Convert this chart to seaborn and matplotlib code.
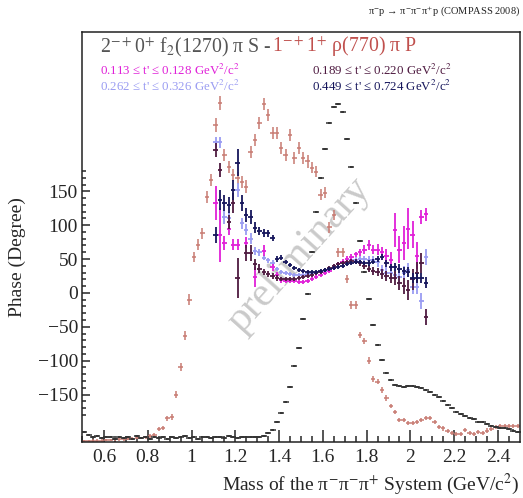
import numpy as np
import pandas as pd
import matplotlib
matplotlib.use("Agg")
import matplotlib.pyplot as plt
import seaborn as sns
from matplotlib.ticker import FixedLocator

# ---- intensities (drawn in phase-axis units) ----
int_mass = [0.51, 0.53, 0.55, 0.57, 0.59, 0.61, 0.63, 0.65, 0.67, 0.69, 0.71, 0.73, 0.75, 0.77, 0.79,
            0.81, 0.83, 0.85, 0.87, 0.89, 0.91, 0.93, 0.95, 0.97, 0.99, 1.01, 1.03, 1.05, 1.07, 1.09,
            1.11, 1.13, 1.15, 1.17, 1.19, 1.21, 1.23, 1.25, 1.27, 1.29, 1.31, 1.33, 1.35, 1.37, 1.39,
            1.41, 1.43, 1.45, 1.47, 1.49, 1.51, 1.53, 1.55, 1.57, 1.59, 1.61, 1.63, 1.65, 1.67, 1.69,
            1.71, 1.73, 1.75, 1.77, 1.79, 1.81, 1.83, 1.85, 1.87, 1.89, 1.91, 1.93, 1.95, 1.97, 1.99,
            2.01, 2.03, 2.05, 2.07, 2.09, 2.11, 2.13, 2.15, 2.17, 2.19, 2.21, 2.23, 2.25, 2.27, 2.29,
            2.31, 2.33, 2.35, 2.37, 2.39, 2.41, 2.43, 2.45, 2.47, 2.49]

rho_int = [-219, -219, -218, -218, -218, -217, -217, -216, -216, -216, -215, -215, -214, -214, -213,
           -211, -209, -201, -199, -185, -183, -150, -109, -63, -10, 53, 71, 88, 142, 167,
           248, 280, 204, 186, 174, 170, 164, 157, 208, 226, 251, 279, 263, 236, 236,
           214, 204, 233, 199, 214, 199, 194, 185, 179, 145, 148, 97, 115, 60, 60,
           20, -18, -18, -62, -71, -100, -127, -131, -143, -155, -167, -176, -188, -188, -192,
           -192, -190, -188, -185, -185, -190, -198, -200, -204, -207, -208, -208, -202, -207, -208,
           -205, -206, -203, -201, -198, -197, -196, -196, -196, -196]
rho_err = [2, 2, 2, 2, 2, 2, 2, 2, 2, 2, 2, 2, 2, 2, 2,
           3, 3, 3, 3, 4, 4, 5, 6, 7, 8, 8, 8, 8, 9, 9,
           10, 10, 9, 9, 9, 9, 9, 9, 9, 9, 9, 9, 9, 9, 9,
           9, 9, 9, 9, 9, 9, 9, 8, 8, 8, 8, 8, 8, 7, 7,
           6, 6, 6, 5, 5, 5, 4, 4, 4, 4, 3, 3, 3, 3, 3,
           3, 3, 3, 3, 3, 3, 3, 3, 3, 3, 3, 3, 3, 3, 3,
           3, 3, 3, 3, 3, 3, 3, 3, 3, 3]

f2_int = [-205, -210, -213, -211, -214, -212, -213, -215, -212, -214, -213, -215, -211, -214, -213,
          -215, -212, -214, -213, -215, -212, -214, -213, -211, -214, -212, -215, -213, -212, -214,
          -213, -212, -214, -211, -213, -214, -212, -213, -212, -213, -212, -211, -207, -202, -190,
          -177, -161, -139, -108, -81, -38, -1, 60, 120, 170, 213, 251, 275, 279, 267,
          227, 186, 133, 77, 31, -9, -48, -77, -99, -118, -128, -136, -138, -139, -138,
          -137, -139, -140, -143, -146, -150, -154, -160, -166, -170, -175, -178, -182, -185, -186,
          -190, -191, -193, -197, -198, -199, -200, -201, -203, -205]

# ---- relative phases for four t' bins ----
m_a = [1.11, 1.13, 1.15, 1.17, 1.19, 1.21, 1.25, 1.29, 1.33, 1.37, 1.39, 1.41, 1.43, 1.45, 1.47,
       1.49, 1.51, 1.53, 1.55, 1.57, 1.59, 1.61, 1.63, 1.65, 1.67, 1.69, 1.71, 1.73, 1.75, 1.77,
       1.79, 1.81, 1.83, 1.85, 1.87, 1.89, 1.91, 1.93, 1.95, 1.97, 1.99, 2.01, 2.03, 2.05, 2.07]
ph_a = [133, 86, 74, 95, 71, 71, 74, 24, 62, 38, 27, 19, 18, 18, 17,
        16, 16, 18, 20, 23, 26, 29, 32, 37, 42, 46, 50, 53, 57, 60,
        64, 71, 64, 64, 60, 55, 48, 93, 64, 74, 95, 86, 55, 112, 116]
er_a = [25, 40, 10, 10, 8, 8, 8, 15, 8, 5, 4, 4, 3, 3, 3,
        3, 3, 3, 3, 3, 3, 3, 3, 3, 4, 4, 4, 4, 4, 5,
        6, 7, 7, 8, 8, 10, 12, 25, 20, 25, 30, 20, 20, 10, 10]

m_b = [1.11, 1.13, 1.17, 1.19, 1.21, 1.25, 1.27, 1.29, 1.31, 1.33, 1.35, 1.37, 1.39, 1.41, 1.43,
       1.45, 1.47, 1.49, 1.51, 1.53, 1.55, 1.57, 1.59, 1.61, 1.63, 1.65, 1.67, 1.69, 1.71, 1.73,
       1.75, 1.77, 1.79, 1.81, 1.83, 1.85, 1.87, 1.89, 1.91, 1.93, 1.95, 1.97, 1.99, 2.01, 2.03,
       2.05, 2.07]
ph_b = [211, 181, 105, 133, 22, 59, 59, 42, 36, 31, 28, 25, 22, 20, 20,
        20, 21, 22, 23, 25, 27, 29, 31, 34, 37, 40, 42, 44, 46, 47,
        46, 44, 40, 36, 33, 31, 28, 25, 22, 22, 15, 10, 4, 20, 30,
        44, -36]
er_b = [10, 10, 10, 15, 30, 12, 12, 8, 6, 5, 4, 4, 4, 3, 3,
        3, 3, 3, 3, 3, 3, 3, 3, 3, 3, 3, 3, 3, 3, 3,
        4, 4, 5, 5, 6, 6, 7, 8, 8, 10, 10, 12, 15, 15, 15,
        15, 12]

m_c = [1.11, 1.13, 1.15, 1.17, 1.21, 1.23, 1.25, 1.27, 1.29, 1.31, 1.33, 1.35, 1.37, 1.39, 1.41,
       1.43, 1.45, 1.47, 1.49, 1.51, 1.53, 1.55, 1.57, 1.59, 1.61, 1.63, 1.65, 1.67, 1.69, 1.71,
       1.73, 1.75, 1.77, 1.79, 1.81, 1.83, 1.85, 1.87, 1.89, 1.91, 1.93, 1.95, 1.97, 1.99, 2.01,
       2.03, 2.05, 2.07]
ph_c = [222, 222, 112, 110, 152, 103, 93, 80, 62, 60, 52, 48, 44, 36, 31,
        29, 28, 27, 27, 27, 28, 29, 30, 31, 33, 36, 40, 42, 44, 46,
        48, 49, 50, 50, 49, 49, 45, 34, 30, 29, 27, 24, 30, 34, 9,
        9, -12, 53]
er_c = [8, 8, 10, 10, 10, 8, 8, 8, 6, 5, 4, 4, 4, 3, 3,
        3, 3, 3, 3, 3, 3, 3, 3, 3, 3, 3, 3, 3, 3, 4,
        4, 4, 4, 4, 5, 5, 6, 7, 8, 8, 8, 10, 10, 10, 10,
        10, 12, 12]

m_d = [1.11, 1.13, 1.15, 1.17, 1.19, 1.21, 1.23, 1.25, 1.27, 1.29, 1.31, 1.33, 1.35, 1.37, 1.39,
       1.41, 1.43, 1.45, 1.47, 1.49, 1.51, 1.53, 1.55, 1.57, 1.59, 1.61, 1.63, 1.65, 1.67, 1.69,
       1.71, 1.73, 1.75, 1.77, 1.79, 1.81, 1.83, 1.85, 1.87, 1.89, 1.91, 1.93, 1.95, 1.97, 1.99,
       2.01, 2.03, 2.05, 2.07]
ph_d = [86, 137, 133, 130, 152, 192, 133, 115, 112, 96, 92, 88, 88, 81, 50,
        52, 46, 41, 37, 34, 32, 31, 31, 31, 32, 34, 35, 37, 38, 40,
        43, 44, 46, 45, 44, 44, 46, 50, 53, 44, 38, 38, 36, 33, 31,
        22, 22, 22, 15]
er_d = [12, 15, 12, 12, 15, 20, 12, 10, 10, 8, 6, 6, 5, 5, 4,
        4, 3, 3, 3, 3, 3, 3, 3, 3, 3, 3, 3, 3, 3, 3,
        3, 3, 3, 3, 3, 4, 4, 5, 5, 5, 5, 6, 6, 6, 7,
        7, 8, 8, 8]

tbins = ["0.113 \u2264 t' \u2264 0.128 GeV$^2$/c$^2$",
         "0.189 \u2264 t' \u2264 0.220 GeV$^2$/c$^2$",
         "0.262 \u2264 t' \u2264 0.326 GeV$^2$/c$^2$",
         "0.449 \u2264 t' \u2264 0.724 GeV$^2$/c$^2$"]
tcolors = ["#e020d8", "#4e1a40", "#9a9cf2", "#16165c"]

sns.set_style("ticks")
plt.rcParams['font.family'] = ['Liberation Serif', 'STIXGeneral', 'DejaVu Serif']
plt.rcParams['mathtext.fontset'] = 'stix'

fig = plt.figure(figsize=(5.23, 4.98), dpi=100)
ax = fig.add_axes([0.157, 0.1124, 0.837, 0.8233])

# watermark
ax.text(1.49, 56, "preliminary", fontsize=30, color="#cacaca", rotation=48,
        ha="center", va="center", zorder=0.5)

# intensities
ax.errorbar(int_mass, rho_int, yerr=rho_err, xerr=0.01, fmt="none",
            ecolor="#c87a72", elinewidth=1.1, zorder=2)
f2_df = pd.DataFrame({"mass": int_mass, "val": f2_int})
ax.errorbar(f2_df["mass"], f2_df["val"], yerr=1.5, xerr=0.008, fmt="none",
            ecolor="#333333", elinewidth=1.1, zorder=2)
sns.scatterplot(data=f2_df, x="mass", y="val", marker="_", s=18, color="#333333",
                linewidth=1.1, ax=ax, zorder=2, legend=False)

# phases
for mm, ph, er, col in [(m_c, ph_c, er_c, tcolors[2]), (m_a, ph_a, er_a, tcolors[0]),
                        (m_b, ph_b, er_b, tcolors[1]), (m_d, ph_d, er_d, tcolors[3])]:
    ax.errorbar(mm, ph, yerr=er, xerr=0.01, fmt="none", ecolor=col,
                elinewidth=1.3, zorder=3)

ax.set_xlim(0.5, 2.5)
ax.set_ylim(-220, 385)
ax.xaxis.set_major_locator(FixedLocator(np.arange(0.6, 2.41, 0.2)))
ax.xaxis.set_minor_locator(FixedLocator(np.arange(0.5, 2.5, 0.05)))
ax.set_xticklabels(["0.6", "0.8", "1", "1.2", "1.4", "1.6", "1.8", "2", "2.2", "2.4"])
ax.yaxis.set_major_locator(FixedLocator(np.arange(-150, 151, 50)))
ax.yaxis.set_minor_locator(FixedLocator(np.arange(-180, 181, 10)))
ax.tick_params(axis="both", which="both", direction="in", labelsize=14, width=1.1)
ax.tick_params(axis="x", which="major", length=9, pad=5)
ax.tick_params(axis="x", which="minor", length=4)
ax.tick_params(axis="y", which="major", length=6, pad=3)
ax.tick_params(axis="y", which="minor", length=3)
for s in ax.spines.values():
    s.set_linewidth(1.1)
    s.set_color("#222222")

ax.set_xlabel("Mass of the π$^{-}$π$^{-}$π$^{+}$ System (GeV/c$^2$)", fontsize=14,
              loc="right")
ax.set_ylabel("Phase (Degree)", fontsize=14)
ax.yaxis.set_label_coords(-0.128, 0.45)

# title made of two coloured parts
t1 = ax.text(0.041, 0.951, "2$^{-+}$0$^{+}$ f$_2$(1270) π S - ", transform=ax.transAxes,
             fontsize=14.3, color="#555555", ha="left", va="baseline")
fig.canvas.draw()
bb = t1.get_window_extent()
x2 = ax.transAxes.inverted().transform((bb.x1, bb.y0))[0]
ax.text(x2, 0.951, "1$^{-+}$1$^{+}$ ρ(770) π P", transform=ax.transAxes,
        fontsize=14.3, color="#c0504d", ha="left", va="baseline")

ax.text(0.041, 0.895, tbins[0], transform=ax.transAxes, fontsize=9.3, color=tcolors[0])
ax.text(0.041, 0.857, tbins[2], transform=ax.transAxes, fontsize=9.3, color=tcolors[2])
ax.text(0.525, 0.895, tbins[1], transform=ax.transAxes, fontsize=9.3, color=tcolors[1])
ax.text(0.525, 0.857, tbins[3], transform=ax.transAxes, fontsize=9.3, color=tcolors[3])

fig.text(0.994, 0.972, "π$^{-}$p → π$^{-}$π$^{-}$π$^{+}$p (COMPASS 2008)",
         fontsize=7.5, ha="right", va="baseline", color="#222222")

fig.savefig("out.png", dpi=100)
